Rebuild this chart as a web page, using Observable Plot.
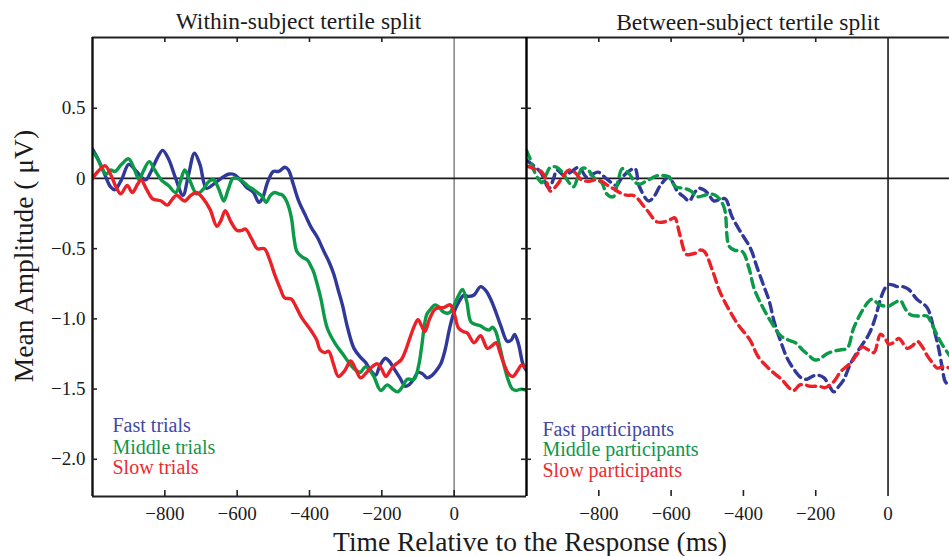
<!DOCTYPE html>
<html>
<head>
<meta charset="utf-8">
<script src="https://cdn.jsdelivr.net/npm/d3@7"></script>
<script src="https://cdn.jsdelivr.net/npm/@observablehq/plot@0.6"></script>
<style>
html, body { margin: 0; padding: 0; background: #fff; }
#chart { position: relative; width: 949px; height: 556px; overflow: hidden; background: #fff; }
#chart svg { position: absolute; left: 0; top: 0; }
</style>
</head>
<body>
<div id="chart"></div>
<script>
// ---------- DATA ----------
const panelTitles = ["Within-subject tertile split", "Between-subject tertile split"];
const xAxisTitle = "Time Relative to the Response (ms)";
const yAxisTitle = "Mean Amplitude ( \u03BCV)";
const leftLegend = ["Fast trials", "Middle trials", "Slow trials"];
const rightLegend = ["Fast participants", "Middle participants", "Slow participants"];
const xTickLabels = [-800, -600, -400, -200, 0];
const xTopTicks = [-800, -600, -400, -200];
const yTickLabels = [0.5, 0, -0.5, -1.0, -1.5, -2.0];
const yTickMarks = [0.5, -0.5, -1.0, -1.5, -2.0];
const leftXDomain = [-1000, 200];
const rightXDomain = [-1000, 170];
const yDomain = [-2.265, 1.004];

// Within-subject (solid)
const fastTrialsT = [-1000,-985,-968,-950,-938,-920,-900,-885,-868,-853,-838,-820,-806,-790,-770,-750,-735,-718,-703,-685,-665,-645,-625,-610,-595,-575,-555,-540,-530,-515,-500,-485,-468,-458,-445,-430,-410,-395,-378,-360,-345,-333,-320,-309,-295,-277,-260,-245,-230,-217,-205,-190,-180,-165,-150,-135,-125,-112,-100,-88,-75,-65,-50,-37,-25,-12,0,15,27,40,55,73,88,101,115,129,147,158,167,178,190,200];
const fastTrialsV = [0.21,0.14,0.04,-0.06,-0.08,-0.01,0.10,0.07,0.02,-0.01,0.05,0.15,0.20,0.14,0.00,-0.12,0.02,0.18,0.10,-0.07,-0.04,0.00,0.03,0.03,0.00,-0.06,-0.10,-0.17,-0.14,-0.02,0.05,0.05,0.08,0.06,-0.04,-0.16,-0.27,-0.35,-0.42,-0.52,-0.60,-0.68,-0.80,-0.90,-1.06,-1.21,-1.27,-1.31,-1.37,-1.40,-1.33,-1.28,-1.30,-1.36,-1.42,-1.48,-1.47,-1.43,-1.38,-1.39,-1.42,-1.41,-1.37,-1.32,-1.22,-1.06,-0.95,-0.87,-0.83,-0.84,-0.83,-0.77,-0.80,-0.86,-0.95,-1.05,-1.16,-1.15,-1.11,-1.18,-1.32,-1.37];

const middleTrialsT = [-1000,-988,-975,-962,-950,-938,-920,-900,-885,-871,-860,-843,-828,-810,-790,-770,-758,-745,-730,-712,-695,-678,-665,-650,-637,-625,-612,-600,-585,-572,-555,-544,-530,-520,-508,-497,-485,-474,-462,-450,-443,-435,-420,-406,-395,-388,-378,-369,-351,-328,-305,-286,-270,-259,-245,-232,-222,-203,-185,-170,-157,-142,-130,-111,-98,-90,-76,-65,-53,-40,-33,-20,-10,9,23,35,46,60,73,85,96,106,115,128,138,150,161,172,185,200];
const middleTrialsV = [0.19,0.15,0.08,0.03,0.06,0.05,0.10,0.14,0.07,-0.01,0.05,0.12,0.06,-0.01,-0.05,-0.10,-0.03,0.06,-0.02,-0.11,-0.08,-0.02,-0.01,-0.08,-0.16,-0.08,0.00,0.00,-0.02,-0.05,-0.08,-0.10,-0.13,-0.17,-0.12,-0.10,-0.11,-0.12,-0.17,-0.28,-0.42,-0.52,-0.56,-0.58,-0.63,-0.67,-0.76,-0.85,-1.065,-1.18,-1.26,-1.33,-1.37,-1.38,-1.34,-1.37,-1.41,-1.51,-1.47,-1.50,-1.52,-1.48,-1.43,-1.43,-1.33,-1.20,-0.97,-0.93,-0.90,-0.92,-0.945,-0.96,-0.95,-0.85,-0.79,-0.88,-1.02,-1.04,-1.05,-1.07,-1.08,-1.06,-1.09,-1.22,-1.33,-1.44,-1.50,-1.51,-1.50,-1.51];

const slowTrialsT = [-1000,-985,-965,-950,-935,-922,-904,-890,-875,-866,-850,-834,-810,-793,-780,-768,-745,-728,-712,-695,-675,-656,-645,-633,-617,-600,-588,-577,-560,-544,-525,-510,-497,-480,-469,-450,-436,-422,-408,-394,-380,-371,-358,-347,-334,-320,-303,-286,-272,-259,-245,-231,-212,-200,-189,-175,-165,-146,-135,-123,-110,-100,-90,-81,-68,-53,-40,-29,-11,0,12,25,36,55,73,92,105,116,128,139,150,162,175,186,200];
const slowTrialsV = [0.00,0.05,0.09,0.03,-0.06,-0.11,-0.05,-0.10,-0.04,-0.01,-0.08,-0.145,-0.16,-0.19,-0.15,-0.12,-0.16,-0.12,-0.10,-0.14,-0.22,-0.34,-0.30,-0.23,-0.31,-0.37,-0.37,-0.36,-0.43,-0.50,-0.50,-0.58,-0.68,-0.79,-0.85,-0.86,-0.92,-0.99,-1.04,-1.09,-1.15,-1.22,-1.24,-1.23,-1.32,-1.41,-1.37,-1.30,-1.36,-1.42,-1.39,-1.35,-1.32,-1.36,-1.41,-1.36,-1.33,-1.29,-1.23,-1.14,-1.05,-1.005,-1.05,-1.09,-1.00,-0.93,-0.92,-0.92,-0.90,-0.96,-1.065,-1.09,-1.10,-1.17,-1.12,-1.21,-1.19,-1.17,-1.25,-1.33,-1.39,-1.41,-1.37,-1.33,-1.35];

// Between-subject (dashed)
const fastPartT = [-1000,-985,-961,-938,-925,-916,-895,-875,-855,-834,-818,-802,-780,-765,-751,-740,-727,-700,-689,-662,-645,-630,-606,-595,-583,-565,-550,-535,-524,-510,-497,-482,-465,-450,-432,-408,-380,-362,-343,-329,-315,-297,-279,-256,-240,-224,-210,-196,-177,-162,-150,-136,-122,-104,-81,-53,-35,-21,-8,2,15,25,40,57,80,108,126,140,150,159,170];
const fastPartV = [0.13,0.10,0.045,-0.07,0.00,0.06,0.02,0.05,0.08,0.01,0.03,0.045,0.00,-0.03,-0.05,-0.01,0.03,0.07,-0.05,-0.16,-0.12,-0.05,0.01,-0.03,-0.09,-0.13,-0.16,-0.10,-0.07,-0.08,-0.11,-0.16,-0.15,-0.145,-0.27,-0.38,-0.50,-0.635,-0.77,-0.87,-1.02,-1.16,-1.28,-1.375,-1.42,-1.43,-1.41,-1.40,-1.42,-1.48,-1.52,-1.48,-1.43,-1.32,-1.22,-1.11,-0.99,-0.86,-0.78,-0.755,-0.76,-0.77,-0.77,-0.79,-0.86,-0.92,-1.065,-1.21,-1.35,-1.45,-1.47];

const middlePartT = [-1000,-990,-980,-968,-957,-945,-934,-916,-900,-885,-870,-858,-847,-834,-811,-792,-778,-760,-748,-735,-718,-698,-685,-670,-655,-638,-620,-606,-587,-564,-545,-527,-508,-490,-472,-453,-440,-425,-403,-385,-371,-352,-324,-297,-276,-256,-237,-219,-205,-192,-170,-150,-130,-113,-95,-72,-55,-45,-22,1,15,34,48,62,85,108,120,131,149,170];
const middlePartV = [0.20,0.14,0.06,0.00,-0.03,0.03,0.08,0.08,0.04,-0.02,-0.06,0.01,0.07,0.07,0.00,-0.03,-0.11,-0.13,-0.03,0.07,0.04,-0.03,-0.04,-0.02,0.00,0.02,0.02,0.01,-0.06,-0.07,-0.09,-0.13,-0.12,-0.11,-0.13,-0.21,-0.48,-0.51,-0.52,-0.635,-0.78,-0.89,-1.02,-1.12,-1.15,-1.17,-1.22,-1.26,-1.29,-1.29,-1.25,-1.23,-1.22,-1.21,-1.065,-0.945,-0.88,-0.86,-0.90,-0.91,-0.89,-0.87,-0.93,-0.97,-0.98,-0.98,-1.03,-1.09,-1.18,-1.26];

const slowPartT = [-1000,-980,-957,-945,-934,-920,-911,-895,-883,-865,-848,-828,-810,-792,-775,-755,-735,-720,-705,-692,-675,-662,-648,-638,-620,-600,-590,-576,-558,-545,-531,-520,-508,-485,-466,-443,-415,-382,-359,-327,-295,-262,-244,-230,-215,-190,-175,-159,-145,-131,-115,-99,-85,-71,-55,-39,-21,-8,2,15,30,53,68,81,95,108,122,136,154,170];
const slowPartV = [0.09,0.07,0.045,-0.02,-0.09,-0.06,-0.03,0.03,0.06,0.04,-0.01,-0.02,-0.01,-0.02,-0.05,-0.08,-0.11,-0.12,-0.12,-0.145,-0.20,-0.24,-0.29,-0.31,-0.31,-0.29,-0.28,-0.40,-0.54,-0.54,-0.53,-0.51,-0.52,-0.66,-0.80,-0.92,-1.04,-1.15,-1.27,-1.36,-1.43,-1.51,-1.47,-1.47,-1.48,-1.48,-1.49,-1.47,-1.43,-1.375,-1.34,-1.30,-1.25,-1.20,-1.22,-1.24,-1.11,-1.14,-1.18,-1.17,-1.14,-1.21,-1.19,-1.16,-1.20,-1.26,-1.31,-1.35,-1.34,-1.35];

const seriesColors = ["#30399a", "#0b9a48", "#ec2027"];
const legendColors = ["#3d48a8", "#13944b", "#ec2a2f"];

// ---------- BUILD ----------
const rows = (T, V) => T.map((t, i) => ({t, v: V[i]}));
const leftSeries = [rows(fastTrialsT, fastTrialsV), rows(middleTrialsT, middleTrialsV), rows(slowTrialsT, slowTrialsV)];
const rightSeries = [rows(fastPartT, fastPartV), rows(middlePartT, middlePartV), rows(slowPartT, slowPartV)];

const W = 949, H = 556, mTop = 37, mBottom = 60;
const frameH = H - mTop - mBottom;
const serif = "'Liberation Serif', 'Times New Roman', 'DejaVu Serif', serif";
const ink = "#1b1b1b";
const baseStyle = {fontFamily: serif, fontSize: "19px", color: ink, background: "none", overflow: "visible"};
const yFmt = d => d === 0 ? "0" : d3.format(".1f")(d);

// Left panel
const lML = 92, lMR = 423, lFrameW = W - lML - lMR;
const leftPlot = Plot.plot({
  width: W, height: H,
  marginLeft: lML, marginRight: lMR, marginTop: mTop, marginBottom: mBottom,
  style: baseStyle,
  x: {domain: leftXDomain},
  y: {domain: yDomain},
  marks: [
    Plot.ruleX([0], {stroke: "#8a8a8a", strokeWidth: 1.6}),
    Plot.ruleY([0], {stroke: ink, strokeWidth: 1.8}),
    ...leftSeries.map((s, i) => Plot.line(s, {x: "t", y: "v", stroke: seriesColors[i], strokeWidth: 3.4, curve: "catmull-rom", clip: true})),
    Plot.ruleY([yDomain[1]], {stroke: "#222", strokeWidth: 2}),
    Plot.ruleY([yDomain[0]], {stroke: "#222", strokeWidth: 2}),
    Plot.ruleX([leftXDomain[0]], {stroke: "#111", strokeWidth: 2.4}),
    Plot.tickX(xTopTicks, {x: d => d, insetBottom: frameH - 5, stroke: "#222", strokeWidth: 1.6}),
    Plot.tickX(xTickLabels, {x: d => d, insetTop: frameH - 6, stroke: "#222", strokeWidth: 1.6}),
    Plot.tickY(yTickMarks, {y: d => d, insetRight: lFrameW - 5, stroke: "#222", strokeWidth: 1.6}),
    Plot.axisX(xTickLabels, {anchor: "bottom", tickSize: 0, tickPadding: 10, fontSize: 19, label: null}),
    Plot.axisY(yTickLabels, {anchor: "left", tickSize: 0, tickPadding: 7, tickFormat: yFmt, fontSize: 19, label: null}),
    Plot.text([panelTitles[0]], {frameAnchor: "top", lineAnchor: "bottom", dx: -11, dy: -8.5, fontSize: 23.5, fill: ink}),
    Plot.text([xAxisTitle], {frameAnchor: "bottom", lineAnchor: "bottom", dx: 220.5, dy: 54, fontSize: 27.5, fill: ink}),
    Plot.text([yAxisTitle], {frameAnchor: "left", textAnchor: "middle", lineAnchor: "bottom", rotate: -90, dx: -59.5, dy: -11, fontSize: 27.5, fill: ink}),
    ...leftLegend.map((l, i) => Plot.text([l], {frameAnchor: "bottom-left", textAnchor: "start", lineAnchor: "bottom", dx: 20, dy: [-64.4, -42.8, -23][i], fontSize: 20, fill: legendColors[i]}))
  ]
});

// Right panel
const rML = 526, rMR = 0, rFrameW = W - rML - rMR;
const rightPlot = Plot.plot({
  width: W, height: H,
  marginLeft: rML, marginRight: rMR, marginTop: mTop, marginBottom: mBottom,
  style: baseStyle,
  x: {domain: rightXDomain},
  y: {domain: yDomain, axis: null},
  marks: [
    Plot.ruleX([0], {stroke: ink, strokeWidth: 1.6}),
    Plot.ruleY([0], {stroke: ink, strokeWidth: 1.8}),
    ...rightSeries.map((s, i) => Plot.line(s, {x: "t", y: "v", stroke: seriesColors[i], strokeWidth: 3.4, strokeDasharray: "9,5.5", curve: "catmull-rom", clip: true})),
    Plot.ruleY([yDomain[1]], {stroke: "#222", strokeWidth: 2}),
    Plot.ruleX([rightXDomain[0]], {stroke: "#000", strokeWidth: 2.4}),
    Plot.tickX(xTopTicks, {x: d => d, insetBottom: frameH - 5, stroke: "#222", strokeWidth: 1.6}),
    Plot.tickX(xTopTicks, {x: d => d, insetTop: frameH - 6, stroke: "#222", strokeWidth: 1.6}),
    Plot.tickY(yTickMarks, {y: d => d, insetLeft: -5, insetRight: rFrameW - 5, stroke: "#222", strokeWidth: 1.6}),
    Plot.axisX(xTickLabels, {anchor: "bottom", tickSize: 0, tickPadding: 10, fontSize: 19, label: null}),
    Plot.text([panelTitles[1]], {frameAnchor: "top", lineAnchor: "bottom", dx: 10, dy: -8, fontSize: 23.5, fill: ink}),
    ...rightLegend.map((l, i) => Plot.text([l], {frameAnchor: "bottom-left", textAnchor: "start", lineAnchor: "bottom", dx: 16, dy: [-60.5, -40.5, -19.5][i], fontSize: 20, fill: legendColors[i]}))
  ]
});

const chart = document.getElementById("chart");
chart.appendChild(leftPlot);
chart.appendChild(rightPlot);
</script>
</body>
</html>
